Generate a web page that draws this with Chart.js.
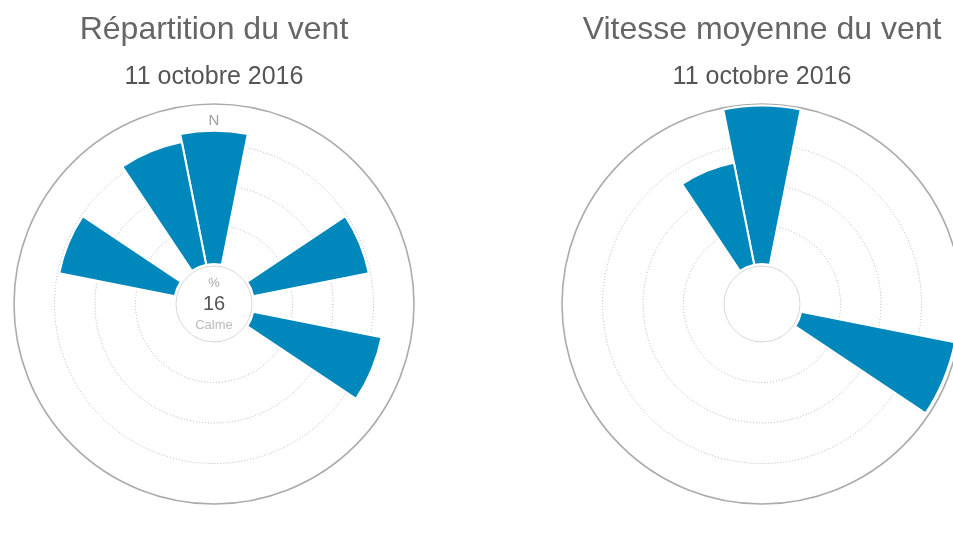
<!DOCTYPE html>
<html lang="fr">
<head>
<meta charset="utf-8">
<title>Vent - 11 octobre 2016</title>
<script src="https://cdn.jsdelivr.net/npm/chart.js@4/dist/chart.umd.min.js"></script>
<style>
    html, body { margin: 0; padding: 0; background: #fff; overflow: hidden; }
    .page { position: relative; width: 953px; height: 536px; overflow: hidden; }
    .rose { position: absolute; top: 0; width: 428px; height: 536px; }
    #roseGauche { left: 0; }
    #roseDroite { left: 548px; }
</style>
</head>
<body>
<div class="page">
    <div class="rose" id="roseGauche"><canvas id="graficoRepartition"></canvas></div>
    <div class="rose" id="roseDroite"><canvas id="graficoVitesse"></canvas></div>
</div>
<script>
const directions = ['N', 'NNE', 'NE', 'ENE', 'E', 'ESE', 'SE', 'SSE', 'S', 'SSO', 'SO', 'OSO', 'O', 'ONO', 'NO', 'NNO'];
const repartition = [16.7, 0, 0, 14.8, 0, 16.4, 0, 0, 0, 0, 0, 0, 0, 14.8, 0, 15.7]; // % par direction
const vitesse = [19.8, 0, 0, 0, 0, 19.6, 0, 0, 0, 0, 0, 0, 0, 0, 0, 13.1];        // vitesse moyenne
const calme = 16;
const graduations = [5, 10, 15, 20];
const minEchelle = -4.69; // laisse la place du trou central

const bleu = '#0087bb';
const police = "'Liberation Sans', Arial, sans-serif";

// trou central + libellé N + texte "Calme"
const trouCentral = {
    id: 'trouCentral',
    beforeDatasetsDraw(chart, args, opts) {
        const s = chart.scales.r, ctx = chart.ctx;
        ctx.save();
        ctx.fillStyle = '#a0a0a0';
        ctx.font = '15px ' + police;
        ctx.textAlign = 'center';
        ctx.textBaseline = 'middle';
        ctx.fillText('N', s.xCenter, s.yCenter - s.drawingArea + 17);
        ctx.restore();
    },
    afterDatasetsDraw(chart, args, opts) {
        const s = chart.scales.r, ctx = chart.ctx;
        const r0 = s.getDistanceFromCenterForValue(0);
        ctx.save();
        ctx.beginPath();
        ctx.arc(s.xCenter, s.yCenter, r0 + 3, 0, Math.PI * 2);
        ctx.fillStyle = '#fff';
        ctx.fill();
        ctx.beginPath();
        ctx.arc(s.xCenter, s.yCenter, r0, 0, Math.PI * 2);
        ctx.strokeStyle = '#d8d8d8';
        ctx.lineWidth = 1;
        ctx.stroke();
        if (opts.texte) {
            ctx.textAlign = 'center';
            ctx.textBaseline = 'middle';
            ctx.fillStyle = '#a8a8a8';
            ctx.font = '13px ' + police;
            ctx.fillText('%', s.xCenter, s.yCenter - 21);
            ctx.fillStyle = '#555';
            ctx.font = '20px ' + police;
            ctx.fillText(String(calme), s.xCenter, s.yCenter);
            ctx.fillStyle = '#bbb';
            ctx.font = '13px ' + police;
            ctx.fillText('Calme', s.xCenter, s.yCenter + 21);
        }
        ctx.restore();
    }
};

function creaRosa(idCanvas, titolo, valori, conTesto) {
    const ultimo = graduations.length - 1;
    return new Chart(document.getElementById(idCanvas), {
        type: 'polarArea',
        data: {
            labels: directions,
            datasets: [{
                data: valori,
                backgroundColor: bleu,
                borderColor: '#fff',
                borderWidth: 2
            }]
        },
        options: {
            responsive: true,
            maintainAspectRatio: false,
            animation: false,
            layout: { padding: { top: 0, left: 14, right: 14, bottom: 31 } },
            plugins: {
                legend: { display: false },
                tooltip: { enabled: false },
                title: {
                    display: true,
                    text: titolo,
                    color: '#666',
                    font: { family: police, size: 32, weight: 'normal' },
                    padding: { top: 11, bottom: 6 }
                },
                subtitle: {
                    display: true,
                    text: '11 octobre 2016',
                    color: '#555',
                    font: { family: police, size: 25, weight: 'normal' },
                    padding: { top: 7, bottom: 12 }
                },
                trouCentral: { texte: conTesto }
            },
            scales: {
                r: {
                    startAngle: -11.25,   // secteur N centré en haut
                    min: minEchelle,
                    max: 20,
                    ticks: { display: false, stepSize: 5 },
                    afterBuildTicks: scale => {
                        scale.ticks = graduations.map(v => ({ value: v }));
                    },
                    pointLabels: { display: false },
                    angleLines: { display: false },
                    grid: {
                        circular: true,
                        color: ctx => ctx.index === ultimo ? '#ababab' : '#b4b4b4',
                        lineWidth: ctx => ctx.index === ultimo ? 1.6 : 1
                    },
                    border: {
                        dash: ctx => ctx.index === ultimo ? [] : [1, 2]
                    }
                }
            }
        },
        plugins: [trouCentral]
    });
}

creaRosa('graficoRepartition', 'Répartition du vent', repartition, true);
creaRosa('graficoVitesse', 'Vitesse moyenne du vent', vitesse, false);
</script>
</body>
</html>
